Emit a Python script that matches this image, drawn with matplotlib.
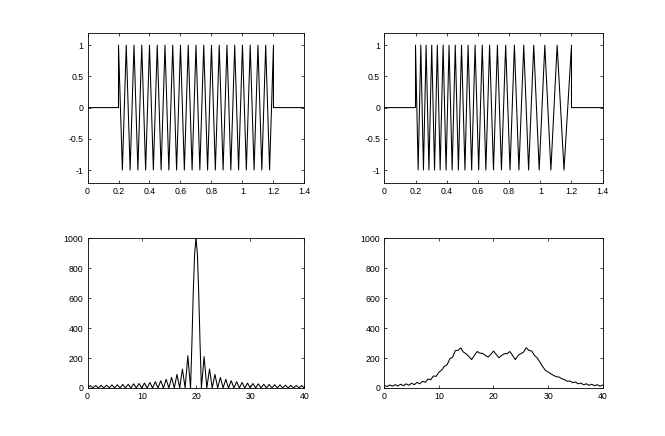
import matplotlib
matplotlib.use("Agg")
import matplotlib.pyplot as plt
import numpy as np

plt.rcParams['font.family'] = ['Liberation Sans', 'DejaVu Sans']

# top left: 20 Hz burst between 0.2 s and 1.2 s (times of the peaks / troughs)
burst_peaks = [0.2, 0.25, 0.3, 0.35, 0.4, 0.45, 0.5, 0.55, 0.6, 0.65, 0.7,
               0.75, 0.8, 0.85, 0.9, 0.95, 1.0, 1.05, 1.1, 1.15, 1.2]
burst_troughs = [0.225, 0.275, 0.325, 0.375, 0.425, 0.475, 0.525, 0.575, 0.625, 0.675,
                 0.725, 0.775, 0.825, 0.875, 0.925, 0.975, 1.025, 1.075, 1.125, 1.175]

# top right: falling chirp, same window
chirp_peaks = [0.2, 0.234, 0.268, 0.304, 0.340, 0.377, 0.415, 0.455, 0.495, 0.537, 0.582,
               0.628, 0.675, 0.725, 0.778, 0.834, 0.894, 0.958, 1.029, 1.108, 1.2]
chirp_troughs = [0.217, 0.251, 0.286, 0.322, 0.358, 0.396, 0.435, 0.475, 0.517, 0.560,
                 0.605, 0.651, 0.700, 0.751, 0.806, 0.863, 0.925, 0.993, 1.068, 1.152]

t_start, t_end, t_max = 0.2, 1.2, 1.4

# bottom left: spectrum of the burst, side lobe heights (lobe centres at k+0.5)
left_lobes = [16, 17, 18, 19, 21, 22, 24, 25, 28, 30, 33, 37, 42, 49, 58, 71, 91, 127, 215]
right_lobes = [210, 127, 91, 71, 58, 49, 42, 37, 33, 30, 28, 25, 24, 22, 21, 19, 18, 17, 16]
main_f = [19.0, 19.25, 19.5, 19.75, 20.0, 20.25, 20.5, 20.75, 21.0]
main_mag = [0, 300, 640, 900, 1000, 900, 640, 300, 0]

# bottom right: spectrum of the chirp, every 0.5 Hz from 0 to 40
chirp_spec = [18, 10, 20, 12, 22, 14, 25, 15, 28, 18, 32, 22, 38, 28, 45, 38, 60, 55,
              80, 78, 105, 120, 145, 155, 195, 205, 250, 252, 268, 240, 228, 210, 190,
              218, 244, 233, 232, 218, 207, 225, 247, 224, 202, 218, 229, 230, 244, 218,
              189, 218, 229, 240, 269, 251, 247, 218, 202, 173, 144, 118, 107, 95, 84, 76,
              73, 62, 56, 45, 47, 36, 40, 28, 33, 22, 28, 18, 25, 15, 22, 12, 20]
spec_f = np.linspace(0, 40, len(chirp_spec))

top_xticks = [0, 0.2, 0.4, 0.6, 0.8, 1.0, 1.2, 1.4]
top_xlabels = ['0', '0.2', '0.4', '0.6', '0.8', '1', '1.2', '1.4']
top_yticks = [-1, -0.5, 0, 0.5, 1]
top_ylabels = ['-1', '-0.5', '0', '0.5', '1']
bot_xticks = [0, 10, 20, 30, 40]
bot_yticks = [0, 200, 400, 600, 800, 1000]


def wave(peaks, troughs):
    pts = sorted([(p, 1) for p in peaks] + [(q, -1) for q in troughs])
    t = [0, t_start] + [p[0] for p in pts] + [t_end, t_max]
    v = [0, 0] + [p[1] for p in pts] + [0, 0]
    return t, v


def lobes(heights, first_centre):
    f, m = [], []
    for i, h in enumerate(heights):
        c = first_centre + i
        f += [c - 0.5, c]
        m += [0, h]
    return f, m


def style(ax):
    ax.tick_params(direction='in', top=True, right=True, length=2, width=0.5,
                   labelsize=6.3, pad=3, colors='black')
    for s in ax.spines.values():
        s.set_linewidth(0.6)
        s.set_color('black')


fig = plt.figure(figsize=(6.65, 4.36), dpi=100)
ax1 = fig.add_axes([0.1316, 0.5814, 0.3262, 0.3436])
ax2 = fig.add_axes([0.5779, 0.5814, 0.3284, 0.3436])
ax3 = fig.add_axes([0.1316, 0.1101, 0.3262, 0.3430])
ax4 = fig.add_axes([0.5779, 0.1101, 0.3284, 0.3430])

lw = 0.75
t, v = wave(burst_peaks, burst_troughs)
ax1.plot(t, v, color='black', lw=lw)
t, v = wave(chirp_peaks, chirp_troughs)
ax2.plot(t, v, color='black', lw=lw)
for ax in (ax1, ax2):
    ax.set_xlim(0, 1.4)
    ax.set_ylim(-1.2, 1.2)
    ax.set_xticks(top_xticks)
    ax.set_xticklabels(top_xlabels)
    ax.set_yticks(top_yticks)
    ax.set_yticklabels(top_ylabels)
    style(ax)

fl, ml = lobes(left_lobes, 0.5)
fr, mr = lobes(right_lobes, 21.5)
f = fl + main_f + fr[1:] + [40]
m = ml + main_mag + mr[1:] + [0]
ax3.plot(f, m, color='black', lw=lw)
ax4.plot(spec_f, chirp_spec, color='black', lw=lw)
for ax in (ax3, ax4):
    ax.set_xlim(0, 40)
    ax.set_ylim(0, 1000)
    ax.set_xticks(bot_xticks)
    ax.set_yticks(bot_yticks)
    style(ax)

fig.savefig('out.png', dpi=100)
